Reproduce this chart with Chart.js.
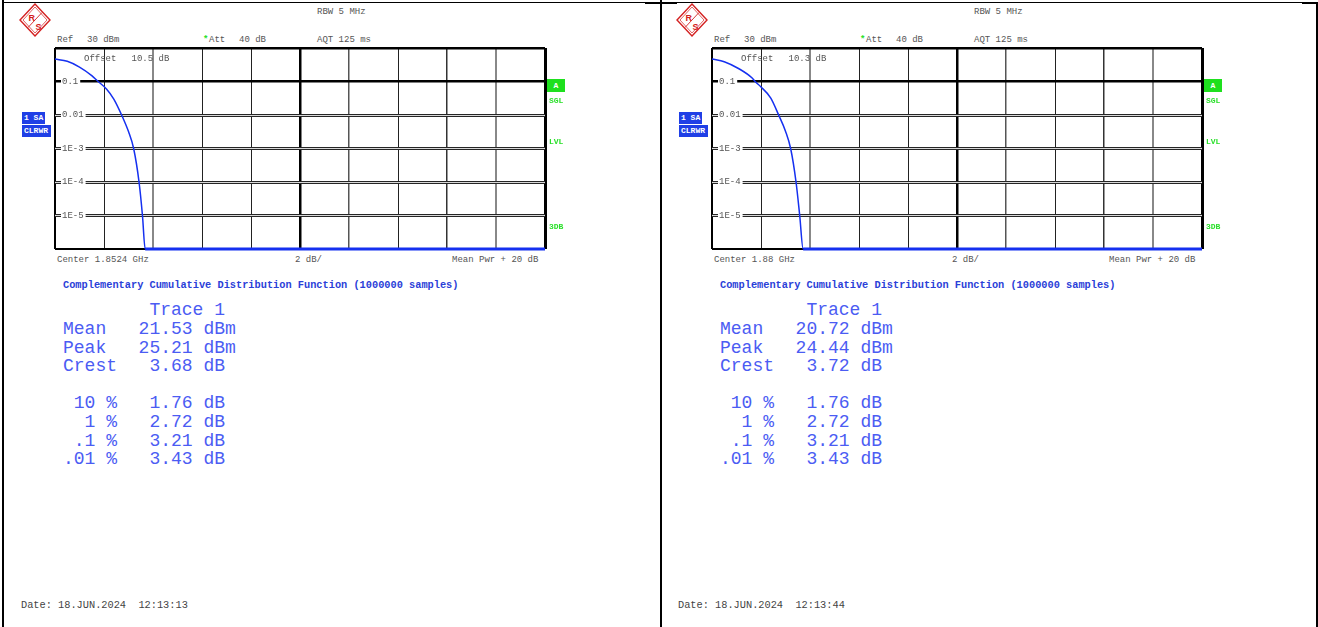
<!DOCTYPE html>
<html>
<head>
<meta charset="utf-8">
<script src="https://cdn.jsdelivr.net/npm/chart.js@4.4.1/dist/chart.umd.min.js"></script>
<style>
  body { margin: 0; width: 1318px; height: 627px; background: #fff; position: relative; overflow: hidden; }
  .panel { position: absolute; top: 0; left: 0; width: 660px; height: 627px; }
  .t { position: absolute; white-space: pre; line-height: 1; transform: translateY(-50%); font-family: "Liberation Mono", monospace; }
  .small { font-size: 9px; color: #555; }
  .green { font-size: 8px; font-weight: bold; color: #2ae02a; }
  .box { position: absolute; background: #1f3fe6; color: #fff; font: bold 8px "Liberation Mono", monospace; line-height: 12px; padding-left: 2px; box-sizing: border-box; }
  .title { font-size: 10.3px; font-weight: bold; color: #2a40d8; }
  .stats { position: absolute; left: 63px; top: 301.4px; margin: 0; font: 18px "Liberation Mono", monospace; line-height: 18.6px; color: #4b5cf3; white-space: pre; }
  .date { font-size: 10.3px; color: #444; }
  .line { position: absolute; background: #000; }
  canvas { position: absolute; left: 50px; top: 43px; }
</style>
</head>
<body>
<div class="line" style="left:2px;top:0;width:2px;height:627px"></div>
<div class="line" style="left:3px;top:2px;width:1314px;height:1px"></div>
<div class="line" style="left:645px;top:2px;width:32px;height:2px"></div>
<div class="line" style="left:1302px;top:2px;width:15px;height:2px"></div>
<div class="line" style="left:660px;top:0;width:2px;height:627px"></div>
<div class="line" style="left:1316px;top:2px;width:2px;height:625px"></div>
<div id="panels"></div>
<script>
// CCDF-Kurven (x: dB über Mittelwert, y: Wahrscheinlichkeit)
const leftDb   = [0, 0.5, 1.0, 1.5, 1.76, 2.1, 2.4, 2.72, 3.0, 3.21, 3.43, 3.57, 3.68, 20];
const leftCcdf = [0.47, 0.40, 0.27, 0.15, 0.1, 0.06, 0.03, 0.01, 0.0032, 0.001, 1e-4, 1e-5, 1e-6, 1e-6];
const rightDb   = [0, 0.5, 1.1, 1.65, 1.76, 1.99, 2.4, 2.72, 3.0, 3.21, 3.43, 3.58, 3.72, 20];
const rightCcdf = [0.47, 0.39, 0.24, 0.125, 0.1, 0.07, 0.032, 0.01, 0.0033, 0.001, 1e-4, 1e-5, 1e-6, 1e-6];

// Achsen
const yTickValues = [1e-6, 1e-5, 1e-4, 1e-3, 1e-2, 1e-1, 1];
const yTickLabels = ['', '1E-5', '1E-4', '1E-3', '0.01', '0.1', ''];
const xTickValues = [0, 2, 4, 6, 8, 10, 12, 14, 16, 18, 20];

// Messwerte-Tabelle
const centerFreqs = ['1.8524 GHz', '1.88 GHz'];
const offsets = ['10.5', '10.3'];
const meanDbm = ['21.53', '20.72'];
const peakDbm = ['25.21', '24.44'];
const crestDb = ['3.68', '3.72'];
const pctLabels = ['10', '1', '.1', '.01'];
const pctDb = [['1.76', '2.72', '3.21', '3.43'], ['1.76', '2.72', '3.21', '3.43']];
const dates = ['18.JUN.2024  12:13:13', '18.JUN.2024  12:13:44'];

const xGridColor = ['#000', '#222', '#888', '#222', '#222', '#000', '#555', '#222', '#333', '#888', '#000'];
const xGridWidth = [2, 1, 2, 1, 1, 2.5, 1.5, 1, 1.5, 2, 3];

function txt(cls, x, y, s) {
    return `<div class="t ${cls}" style="left:${x}px;top:${y}px">${s}</div>`;
}

function panelHtml(i) {
    const rows = [
        '        Trace 1',
        'Mean   ' + meanDbm[i] + ' dBm',
        'Peak   ' + peakDbm[i] + ' dBm',
        'Crest   ' + crestDb[i] + ' dB',
        ''
    ];
    pctLabels.forEach((p, k) => {
        rows.push(p.padStart(3) + ' %   ' + pctDb[i][k] + ' dB');
    });
    return `
    <svg style="position:absolute;left:19px;top:3px" width="32" height="34" viewBox="0 0 32 34">
      <polygon points="16,1 31,17 16,33 1,17" fill="none" stroke="#d42020" stroke-width="1.4"/>
      <polygon points="16,4 28,17 16,30 4,17" fill="none" stroke="#d42020" stroke-width="0.7"/>
      <line x1="23" y1="9.5" x2="9" y2="24.5" stroke="#d42020" stroke-width="0.9"/>
      <text x="9.5" y="18" font-family="Liberation Sans" font-weight="bold" font-size="9" fill="#d42020">R</text>
      <text x="16.5" y="27" font-family="Liberation Sans" font-weight="bold" font-size="9" fill="#d42020">S</text>
    </svg>
    ${txt('small', 317, 12, 'RBW 5 MHz')}
    ${txt('small', 57, 40, 'Ref')}
    ${txt('small', 87, 40, '30 dBm')}
    ${txt('small', 203, 40, '<span style="color:#2ae02a;font-weight:bold">*</span>')}
    ${txt('small', 209, 40, 'Att')}
    ${txt('small', 239, 40, '40 dB')}
    ${txt('small', 317, 40, 'AQT 125 ms')}
    <canvas width="500" height="211"></canvas>
    ${txt('small', 84, 58.5, 'Offset')}
    ${txt('small', 131.5, 58.5, offsets[i] + ' dB')}
    <div class="box" style="left:22px;top:112px;width:23px;height:12px">1 SA</div>
    <div class="box" style="left:22px;top:125px;width:29px;height:12px">CLRWR</div>
    <div class="box" style="left:547px;top:79px;width:18px;height:13px;background:#1ee01e;text-align:center;padding:0;line-height:13px">A</div>
    ${txt('green', 549, 100.5, 'SGL')}
    ${txt('green', 549, 142.3, 'LVL')}
    ${txt('green', 549, 226.7, '3DB')}
    ${txt('small', 57, 260, 'Center ' + centerFreqs[i])}
    ${txt('small', 295, 260, '2 dB/')}
    ${txt('small', 452, 260, 'Mean Pwr + 20 dB')}
    ${txt('title', 63, 284.7, 'Complementary Cumulative Distribution Function (1000000 samples)')}
    <pre class="stats">${rows.join('\n')}</pre>
    ${txt('date', 21, 605, 'Date: ' + dates[i])}`;
}

function makeChart(canvas, dbValues, ccdfValues) {
    const setTicks = scale => { scale.ticks = yTickValues.map(v => ({ value: v })); };
    const noPad = scale => { scale.paddingTop = 0; scale.paddingBottom = 0; scale.width = 0; };
    return new Chart(canvas.getContext('2d'), {
        type: 'line',
        data: {
            datasets: [{
                data: dbValues.map((x, k) => ({ x: x, y: ccdfValues[k] })),
                borderColor: '#1530f0',
                borderWidth: 1.5,
                pointRadius: 0,
                cubicInterpolationMode: 'monotone',
                clip: false,
                segment: {
                    borderWidth: c => (c.p0.parsed.y <= 1e-6 ? 3 : 1.5)
                }
            }]
        },
        options: {
            responsive: false,
            animation: false,
            events: [],
            layout: { padding: 5 },
            plugins: { legend: { display: false }, tooltip: { enabled: false } },
            scales: {
                x: {
                    type: 'linear', min: 0, max: 20,
                    afterBuildTicks: s => { s.ticks = xTickValues.map(v => ({ value: v })); },
                    ticks: { display: false },
                    grid: {
                        drawTicks: false,
                        color: c => xGridColor[c.index],
                        lineWidth: c => xGridWidth[c.index]
                    },
                    border: { display: false }
                },
                y: {
                    type: 'logarithmic', min: 1e-6, max: 1,
                    afterBuildTicks: setTicks,
                    afterFit: noPad,
                    ticks: {
                        mirror: true,
                        padding: 7,
                        color: '#555',
                        font: { family: 'Liberation Mono', size: 9 },
                        showLabelBackdrop: c => yTickLabels[c.index] !== '',
                        backdropColor: '#fff',
                        backdropPadding: { left: 1, right: 2, top: 0, bottom: 0 },
                        callback: (v, k) => yTickLabels[k]
                    },
                    grid: {
                        drawTicks: false,
                        color: c => (c.index >= 1 && c.index <= 4 ? '#262626' : '#000'),
                        lineWidth: c => (c.index === 0 ? 2 : (c.index >= 5 ? 2.5 : 3))
                    },
                    border: { display: false }
                },
                y2: {
                    type: 'logarithmic', min: 1e-6, max: 1, position: 'left',
                    afterBuildTicks: setTicks,
                    afterFit: noPad,
                    ticks: { display: false },
                    grid: {
                        z: -0.5,
                        drawTicks: false,
                        color: c => (c.index >= 1 && c.index <= 4 ? '#d8d8d8' : 'rgba(0,0,0,0)'),
                        lineWidth: 1
                    },
                    border: { display: false }
                }
            }
        }
    });
}

const container = document.getElementById('panels');
[[leftDb, leftCcdf], [rightDb, rightCcdf]].forEach(([db, ccdf], i) => {
    const p = document.createElement('div');
    p.className = 'panel';
    p.style.left = (i * 657) + 'px';
    p.innerHTML = panelHtml(i);
    container.appendChild(p);
    makeChart(p.querySelector('canvas'), db, ccdf);
});
</script>
</body>
</html>
